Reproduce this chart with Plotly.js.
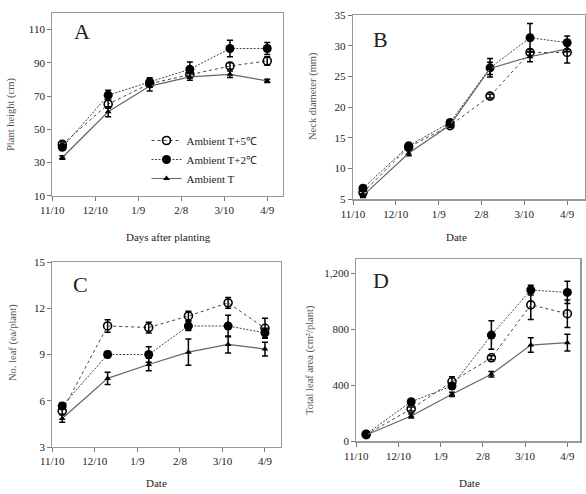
<!DOCTYPE html>
<html>
<head>
<meta charset="utf-8">
<script src="https://cdn.plot.ly/plotly-3.0.1.min.js"></script>
<style>html,body{margin:0;padding:0;background:#fff;}#chart{width:586px;height:494px;}</style>
</head>
<body>
<div id="chart"></div>
<script>
// Sampling days counted from 11/10
const sampleDays = [7, 39, 68, 96, 124, 150];
const tickDays = [0, 30, 60, 90, 120, 150];
const tickLabels = ["11/10", "12/10", "1/9", "2/8", "3/10", "4/9"];
const seriesNames = ["Ambient T+5℃", "Ambient T+2℃", "Ambient T"];

// A: plant height (cm)
const heightT5 = [40.9, 65.1, 77.5, 83.0, 88.1, 91.1];
const heightT5Err = [1.5, 2.5, 2.0, 2.0, 2.0, 2.5];
const heightT2 = [39.1, 70.5, 78.5, 86.1, 98.6, 98.6];
const heightT2Err = [1.5, 3.0, 2.5, 4.4, 5.0, 3.6];
const heightT = [33.0, 60.5, 76.0, 81.5, 83.1, 79.1];
const heightTErr = [1.0, 3.0, 3.0, 2.0, 2.0, 1.0];

// B: neck diameter (mm)
const neckT5 = [6.1, 13.5, 17.0, 21.8, 28.9, 28.9];
const neckT5Err = [0.3, 0.3, 0.3, 0.3, 0.5, 1.7];
const neckT2 = [6.8, 13.7, 17.5, 26.4, 31.3, 30.5];
const neckT2Err = [0.3, 0.4, 0.4, 1.5, 2.3, 1.1];
const neckT = [5.6, 12.5, 17.1, 26.3, 28.2, 29.5];
const neckTErr = [0.3, 0.4, 0.3, 1.0, 0.8, 0.5];

// C: number of leaves (ea/plant)
const leafT5 = [5.33, 10.85, 10.75, 11.5, 12.35, 10.7];
const leafT5Err = [0.2, 0.4, 0.35, 0.3, 0.35, 0.65];
const leafT2 = [5.66, 9.0, 9.0, 10.85, 10.85, 10.4];
const leafT2Err = [0.2, 0.2, 0.5, 0.3, 0.7, 0.3];
const leafT = [4.85, 7.45, 8.35, 9.15, 9.65, 9.35];
const leafTErr = [0.25, 0.4, 0.4, 0.85, 0.55, 0.45];

// D: total leaf area (cm2/plant)
const areaT5 = [48, 231, 426, 597, 975, 912];
const areaT5Err = [8, 15, 35, 15, 105, 98];
const areaT2 = [52, 283, 395, 759, 1081, 1064];
const areaT2Err = [8, 15, 20, 102, 35, 80];
const areaT = [45, 181, 336, 479, 688, 705];
const areaTErr = [5, 15, 15, 20, 52, 60];

const serif = "Liberation Serif, Times New Roman, serif";

const styles = [
  {marker: {symbol: "circle-open", size: 8, color: "#000", line: {width: 1.6, color: "#000"}},
   line: {color: "#444", width: 1, dash: "3px,3px"}},
  {marker: {symbol: "circle", size: 9, color: "#000"},
   line: {color: "#444", width: 1, dash: "2px,1.5px"}},
  {marker: {symbol: "triangle-up", size: 6, color: "#000"},
   line: {color: "#666", width: 1.2, dash: "solid"}}
];

function mk(idx, y, err, ax, showLeg) {
  return {
    type: "scatter", mode: "lines+markers",
    x: sampleDays, y: y, name: seriesNames[idx],
    xaxis: "x" + ax, yaxis: "y" + ax,
    showlegend: showLeg,
    marker: styles[idx].marker, line: styles[idx].line,
    error_y: {type: "data", array: err, visible: true, color: "#000", thickness: 1.5, width: 3}
  };
}

const panels = [
  [[heightT5, heightT5Err], [heightT2, heightT2Err], [heightT, heightTErr]],
  [[neckT5, neckT5Err], [neckT2, neckT2Err], [neckT, neckTErr]],
  [[leafT5, leafT5Err], [leafT2, leafT2Err], [leafT, leafTErr]],
  [[areaT5, areaT5Err], [areaT2, areaT2Err], [areaT, areaTErr]]
];
const axIds = ["", "2", "3", "4"];
const data = [];
panels.forEach((p, pi) => {
  p.forEach((s, si) => data.push(mk(si, s[0], s[1], axIds[pi], pi === 0)));
});

const W = 586, H = 494;
function xd(l, r) { return [l / W, r / W]; }
function yd(t, b) { return [1 - b / H, 1 - t / H]; }

function xAxis(dom, rmax, anchor) {
  return {domain: dom, range: [0, rmax], anchor: anchor,
    tickmode: "array", tickvals: tickDays, ticktext: tickLabels,
    ticks: "outside", ticklen: 4, tickcolor: "#777", tickwidth: 1,
    showline: true, mirror: true, linecolor: "#999", linewidth: 1.2,
    showgrid: false, zeroline: false,
    tickfont: {family: serif, size: 11, color: "#222"}};
}
function yAxis(dom, range, dtick, anchor, fmt) {
  return {domain: dom, range: range, anchor: anchor,
    tick0: range[0], dtick: dtick, tickformat: fmt || "",
    ticks: "outside", ticklen: 4, tickcolor: "#777", tickwidth: 1,
    showline: true, mirror: true, linecolor: "#999", linewidth: 1.2,
    showgrid: false, zeroline: false,
    tickfont: {family: serif, size: 11, color: "#222"}};
}

function ann(text, x, y, size, angle, color) {
  return {text: text, xref: "paper", yref: "paper", x: x / W, y: 1 - y / H,
    xanchor: "center", yanchor: "middle", showarrow: false, textangle: angle || 0,
    font: {family: serif, size: size, color: color || "#222"}};
}

const layout = {
  width: W, height: H,
  margin: {l: 0, r: 0, t: 0, b: 0},
  paper_bgcolor: "#fff", plot_bgcolor: "#fff",
  separators: ".,",
  showlegend: true,
  legend: {x: 0.25, y: 1 - 126 / H, xanchor: "left", yanchor: "top",
    bgcolor: "rgba(0,0,0,0)", font: {family: serif, size: 11, color: "#222"},
    tracegroupgap: 0},
  xaxis: xAxis(xd(52.3, 282.7), 160.8, "y"),
  yaxis: yAxis(yd(13, 195.7), [10, 120], 20, "x"),
  xaxis2: xAxis(xd(353, 585), 162.5, "y2"),
  yaxis2: yAxis(yd(15, 199.3), [5, 35], 5, "x2"),
  xaxis3: xAxis(xd(52.3, 281), 161.3, "y3"),
  yaxis3: yAxis(yd(262, 447), [3, 15], 3, "x3"),
  xaxis4: xAxis(xd(356.3, 580.3), 159.2, "y4"),
  yaxis4: yAxis(yd(258.7, 441.3), [0, 1305], 400, "x4", ",d"),
  annotations: [
    ann("A", 82, 32, 22),
    ann("B", 380, 39, 22),
    ann("C", 80, 284, 22),
    ann("D", 381, 280, 22),
    ann("Plant height (cm)", 11, 115, 10.5, -90, "#555"),
    ann("Neck diameter (mm)", 313, 96, 10.5, -90, "#555"),
    ann("No. leaf (ea/plant)", 13, 343, 10.5, -90, "#555"),
    ann("Total leaf area (cm²/plant)", 310, 360, 10.5, -90, "#555"),
    ann("Days after planting", 168, 237, 11, 0, "#222"),
    ann("Date", 457, 237, 11, 0, "#222"),
    ann("Date", 156, 483, 11, 0, "#222"),
    ann("Date", 469, 483, 11, 0, "#222")
  ]
};

Plotly.newPlot("chart", data, layout, {staticPlot: true, displayModeBar: false});
</script>
</body>
</html>
